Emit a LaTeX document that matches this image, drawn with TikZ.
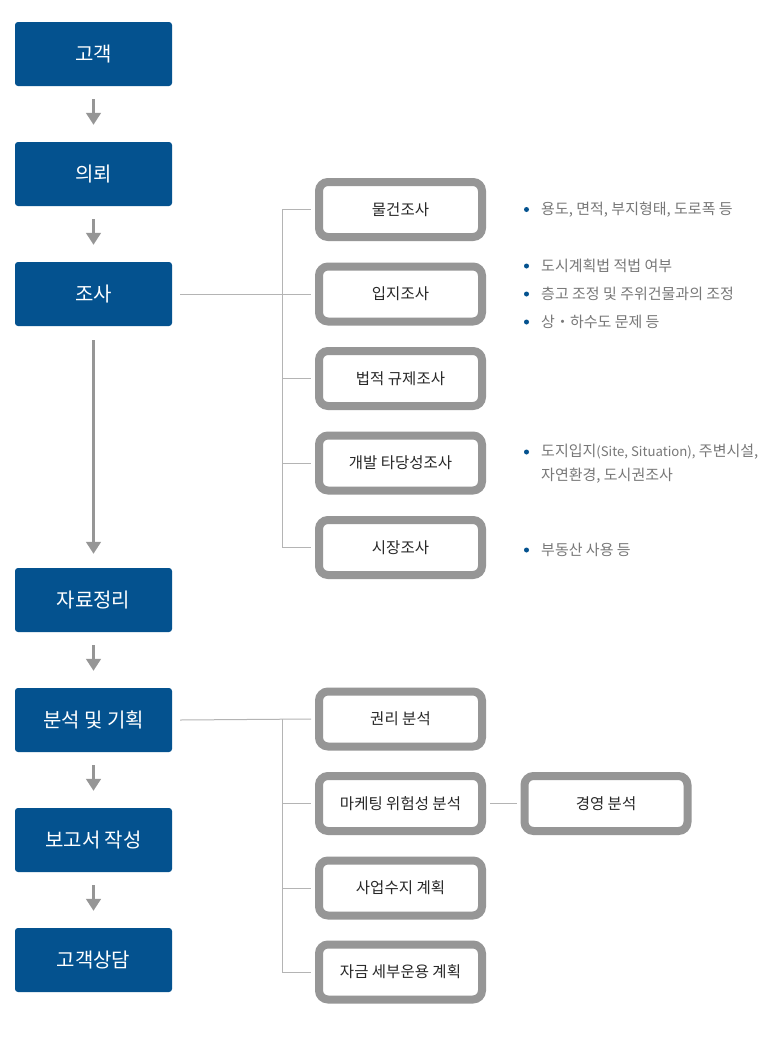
\documentclass[tikz,border=0pt]{standalone}
\usepackage{fontspec}
\setmainfont{Noto Sans CJK KR}
\usetikzlibrary{arrows.meta}
\definecolor{bblue}{RGB}{4,82,143}
\definecolor{gborder}{RGB}{150,150,150}
\definecolor{tlinec}{RGB}{180,180,180}
\definecolor{btext}{RGB}{120,120,120}
\definecolor{dtext}{RGB}{40,40,40}
\tikzset{
  bluebox/.style={fill=bblue, rounded corners=3pt, minimum width=157pt, minimum height=64pt,
    text=white, font=\fontsize{20}{22}\selectfont, inner sep=0pt},
  greybox/.style={draw=gborder, line width=8pt, fill=white, rounded corners=9pt,
    minimum width=163pt, minimum height=55pt, text=dtext,
    font=\fontsize{15.5}{17}\selectfont, inner sep=0pt},
  tline/.style={draw=tlinec, line width=1pt},
  arr/.style={draw=gborder, line width=3pt, -{Triangle[width=14.5pt,length=12pt]}},
  btxt/.style={anchor=west, text=btext, font=\fontsize{15}{17}\selectfont, inner sep=0pt},
  bdot/.style={fill=bblue, circle, inner sep=0pt, minimum size=5pt},
}
\begin{document}
\begin{tikzpicture}[x=1pt,y=-1pt]
\fill[white] (0,0) rectangle (762,1039);
\useasboundingbox (0,0) rectangle (762,1039);
% left column
\node[bluebox] (b1) at (93.5,54) {고객};
\node[bluebox] (b2) at (93.5,174) {의뢰};
\node[bluebox] (b3) at (93.5,294) {조사};
\node[bluebox] (b4) at (93.5,600) {자료정리};
\node[bluebox] (b5) at (93.5,720) {분석 및 기획};
\node[bluebox] (b6) at (93.5,840) {보고서 작성};
\node[bluebox] (b7) at (93.5,960) {고객상담};
\draw[arr] ([yshift=-13pt]b1.south) -- ([yshift=17pt]b2.north);
\draw[arr] ([yshift=-13pt]b2.south) -- ([yshift=17pt]b3.north);
\draw[arr] ([yshift=-14pt]b3.south) -- ([yshift=14pt]b4.north);
\draw[arr] ([yshift=-13pt]b4.south) -- ([yshift=17pt]b5.north);
\draw[arr] ([yshift=-13pt]b5.south) -- ([yshift=17pt]b6.north);
\draw[arr] ([yshift=-13pt]b6.south) -- ([yshift=17pt]b7.north);
% first group
\node[greybox] (g1) at (400.5,209.5) {물건조사};
\node[greybox] (g2) at (400.5,294) {입지조사};
\node[greybox] (g3) at (400.5,378.5) {법적 규제조사};
\node[greybox] (g4) at (400.5,463) {개발 타당성조사};
\node[greybox] (g5) at (400.5,547.5) {시장조사};
\coordinate (s1) at (282,0);
\draw[tline] ([xshift=8pt]b3.east) -- ([xshift=-4pt]g2.west);
\draw[tline] (g1.west -| s1) -- (g5.west -| s1);
\foreach \g in {g1,g3,g4,g5}{
  \draw[tline] (\g.west -| s1) -- ([xshift=-4pt]\g.west);
}
% second group
\node[greybox] (h1) at (400.5,719) {권리 분석};
\node[greybox] (h2) at (400.5,803.5) {마케팅 위험성 분석};
\node[greybox] (h3) at (400.5,888) {사업수지 계획};
\node[greybox] (h4) at (400.5,972) {자금 세부운용 계획};
\node[greybox] (h5) at (606,803.5) {경영 분석};
\draw[tline] ([xshift=8pt]b5.east) -- ([xshift=-4pt]h1.west);
\draw[tline] (h1.west -| s1) -- (h4.west -| s1);
\foreach \g in {h2,h3,h4}{
  \draw[tline] (\g.west -| s1) -- ([xshift=-4pt]\g.west);
}
\draw[tline] ([xshift=4pt]h2.east) -- ([xshift=-4pt]h5.west);
% bullets
\node[bdot] (d1) at (526.5,209.5) {};
\node[btxt] (t1) at (541,209.5) {용도, 면적, 부지형태, 도로폭 등};
\node[bdot] (d2) at (526.5,266) {};
\node[btxt] (t2) at (541,266) {도시계획법 적법 여부};
\node[bdot] (d3) at (526.5,294) {};
\node[btxt] (t3) at (541,294) {층고 조정 및 주위건물과의 조정};
\node[bdot] (d4) at (526.5,322) {};
\node[btxt] (t4) at (541,322) {상・하수도 문제 등};
\node[bdot] (d5) at (526.5,452) {};
\node[btxt] (t5) at (541,452) {도지입지{\fontsize{13.2}{17}\selectfont(Site, Situation),} 주변시설,};
\node[btxt] (t6) at (541,476) {자연환경, 도시권조사};
\node[bdot] (d7) at (526.5,550) {};
\node[btxt] (t7) at (541,550) {부동산 사용 등};
\end{tikzpicture}
\end{document}
